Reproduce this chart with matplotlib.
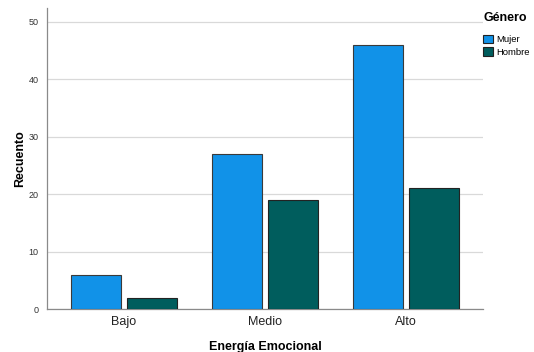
import numpy as np
import matplotlib
matplotlib.use("Agg")
import matplotlib.pyplot as plt
from matplotlib.patches import Patch

categories = ['Bajo', 'Medio', 'Alto']
mujer = [6, 27, 46]
hombre = [2, 19, 21]
series_names = ['Mujer', 'Hombre']
colors = ['#1192E8', '#005D5D']

plt.rcParams['font.family'] = ['Liberation Sans', 'DejaVu Sans']

fig = plt.figure(figsize=(5.34, 3.52), dpi=100)
ax = fig.add_axes([0.088, 0.122, 0.8165, 0.855])

x = np.arange(len(categories))
w = 0.36
off = 0.199
ax.bar(x - off, mujer, w, color=colors[0], edgecolor='#3a3a3a', linewidth=0.8, zorder=3)
ax.bar(x + off, hombre, w, color=colors[1], edgecolor='#222222', linewidth=0.8, zorder=3)

ax.set_xlim(-0.546, 2.546)
ax.set_ylim(0, 52.4)
ax.set_yticks([0, 10, 20, 30, 40, 50])
ax.set_xticks(x)
ax.set_xticklabels(categories, fontsize=9, color='#222222')
ax.tick_params(axis='y', labelsize=6.5, length=0, pad=6, labelcolor='#333333')
ax.tick_params(axis='x', length=0, pad=5)
ax.yaxis.grid(True, color='#d9d9d9', linewidth=0.9, zorder=0)
ax.set_axisbelow(True)
for s in ['top', 'right']:
    ax.spines[s].set_visible(False)
for s in ['left', 'bottom']:
    ax.spines[s].set_color('#8a8a8a')
    ax.spines[s].set_linewidth(0.9)

ax.set_xlabel('Energía Emocional', fontsize=9, fontweight='bold', labelpad=9)
ax.set_ylabel('Recuento', fontsize=9, fontweight='bold', labelpad=2)

handles = [Patch(facecolor=c, edgecolor='#222222', linewidth=0.8) for c in colors]
leg = fig.legend(handles, series_names, loc='upper left', bbox_to_anchor=(0.893, 0.985),
                 frameon=False, fontsize=6.8, title='Género',
                 title_fontproperties={'weight': 'bold', 'size': 9},
                 handlelength=1.0, handleheight=1.0, handletextpad=0.35,
                 labelspacing=0.3, borderpad=0.2)
leg._legend_box.align = 'left'
leg._legend_box.sep = 8

fig.savefig('out.png', dpi=100)
